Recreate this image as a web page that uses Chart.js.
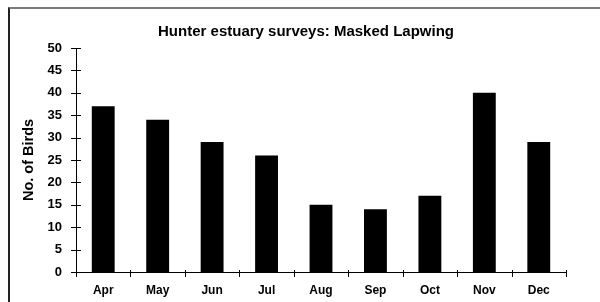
<!DOCTYPE html>
<html>
<head>
<meta charset="utf-8">
<script src="https://cdn.jsdelivr.net/npm/chart.js@4.4.1/dist/chart.umd.min.js"></script>
<style>
    html, body { margin: 0; padding: 0; background: #fff; }
    #wrap { position: relative; width: 600px; height: 302px; overflow: hidden; }
    #frame {
        position: absolute; left: 8px; top: 7px; width: 620px; height: 320px;
        border-top: 2px solid #7a7a7a; border-left: 2px solid #222;
        box-sizing: border-box; pointer-events: none;
    }
    canvas { position: absolute; left: 0; top: 0; }
</style>
</head>
<body>
<div id="wrap">
    <canvas id="birdChart" width="600" height="302"></canvas>
    <div id="frame"></div>
</div>
<script>
// Hunter estuary monthly counts - Masked Lapwing

const chartTitle = 'Hunter estuary surveys: Masked Lapwing';
const yAxisTitle = 'No. of Birds';
const months = ['Apr', 'May', 'Jun', 'Jul', 'Aug', 'Sep', 'Oct', 'Nov', 'Dec'];
const birdCounts = [37, 34, 29, 26, 15, 14, 17, 40, 29];
const yTicks = [0, 5, 10, 15, 20, 25, 30, 35, 40, 45, 50];

const FONT = 'Arial, "Liberation Sans", sans-serif';

// --- Title drawn at a fixed spot above the plot ---
const titlePlugin = {
    id: 'fixedTitle',
    afterDraw(chart) {
        const ctx = chart.ctx;
        ctx.save();
        ctx.font = 'bold 15px ' + FONT;
        ctx.fillStyle = '#000';
        ctx.textAlign = 'center';
        ctx.textBaseline = 'middle';
        ctx.fillText(chartTitle, 306, 32);
        ctx.restore();
    }
};

// --- Tick marks that cross the axis lines ---
const crossTicks = {
    id: 'crossTicks',
    afterDraw(chart) {
        const ctx = chart.ctx;
        const x = chart.scales.x;
        const y = chart.scales.y;
        ctx.save();
        ctx.strokeStyle = '#000';
        ctx.lineWidth = 1;
        ctx.beginPath();
        y.ticks.forEach((t, i) => {
            const py = Math.round(y.getPixelForTick(i)) + 0.5;
            ctx.moveTo(x.left - 5, py);
            ctx.lineTo(x.left + 5, py);
        });
        const step = (x.right - x.left) / months.length;
        for (let k = 0; k <= months.length; k++) {
            const px = Math.round(x.left + k * step) + 0.5;
            ctx.moveTo(px, y.bottom - 2);
            ctx.lineTo(px, y.bottom + 5);
        }
        // axis lines
        ctx.moveTo(Math.round(x.left) + 0.5, y.top);
        ctx.lineTo(Math.round(x.left) + 0.5, y.bottom);
        ctx.moveTo(x.left, Math.round(y.bottom) + 0.5);
        ctx.lineTo(x.right, Math.round(y.bottom) + 0.5);
        ctx.stroke();
        ctx.restore();
    }
};

const ctx = document.getElementById('birdChart').getContext('2d');

new Chart(ctx, {
    type: 'bar',
    data: {
        labels: months,
        datasets: [{
            data: birdCounts,
            backgroundColor: '#000',
            borderWidth: 0,
            categoryPercentage: 0.42,
            barPercentage: 1.0
        }]
    },
    options: {
        responsive: false,
        animation: false,
        layout: { padding: { left: 10, right: 34, top: 48, bottom: 0 } },
        plugins: {
            legend: { display: false },
            title: { display: false },
            tooltip: { enabled: false }
        },
        scales: {
            x: {
                grid: { display: false, drawTicks: false },
                border: { display: false },
                ticks: {
                    color: '#000',
                    font: { family: FONT, size: 12, weight: 'bold' },
                    padding: 11,
                    maxRotation: 0
                },
                afterFit(scale) { scale.height = 30; }
            },
            y: {
                min: 0,
                max: 50,
                grid: { display: false, drawTicks: false },
                border: { display: false },
                afterBuildTicks(scale) {
                    scale.ticks = yTicks.map(v => ({ value: v }));
                },
                ticks: {
                    color: '#000',
                    font: { family: FONT, size: 13, weight: 'bold' },
                    padding: 14
                },
                title: {
                    display: true,
                    text: yAxisTitle,
                    color: '#000',
                    font: { family: FONT, size: 14.5, weight: 'bold' },
                    padding: { top: 10, bottom: 0 }
                },
                afterFit(scale) { scale.width = 66; }
            }
        }
    },
    plugins: [titlePlugin, crossTicks]
});
</script>
</body>
</html>
